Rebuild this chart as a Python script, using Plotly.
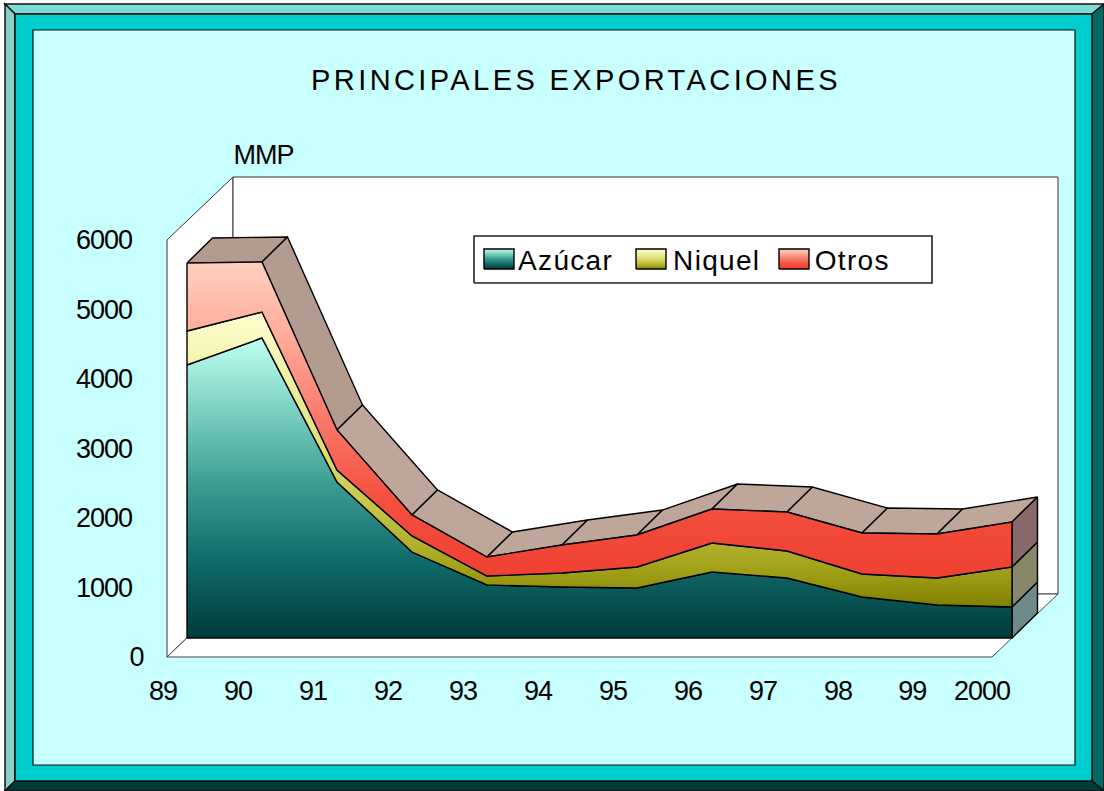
import plotly.graph_objects as go

# ---- data ----
YEARS = ["89", "90", "91", "92", "93", "94", "95", "96", "97", "98", "99", "2000"]
AZUCAR = [3928, 4317, 2245, 1237, 763, 734, 719, 950, 863, 590, 475, 446]
NIQUEL = [489, 374, 172, 231, 129, 201, 303, 417, 389, 331, 388, 576]
OTROS = [979, 719, 576, 302, 273, 403, 460, 489, 561, 590, 633, 647]
Y_TICKS = [1000, 2000, 3000, 4000, 5000, 6000]
X_LABEL_POS = [0, 1, 2, 3, 4, 5, 6, 7, 8, 9, 9.99, 10.92]

W, H = 1104, 791
FONT = "Liberation Sans"
PX_PER_CAT = 75.0
PX_PER_UNIT = 417 / 6000
X0_PX, Y0_PX = 167, 657


def to_x(px):
    return (px - X0_PX) / PX_PER_CAT


def to_y(py):
    return (Y0_PX - py) / PX_PER_UNIT


# depth offsets (category units, value units)
WALL_DX, WALL_DY = 66 / PX_PER_CAT, 63 / PX_PER_UNIT
FRONT_DX, FRONT_DY = 20 / PX_PER_CAT, 19 / PX_PER_UNIT
BACK_DX, BACK_DY = 25.5 / PX_PER_CAT, 25 / PX_PER_UNIT

n = len(YEARS)
s1 = AZUCAR
s2 = [a + b for a, b in zip(s1, NIQUEL)]
s3 = [a + b for a, b in zip(s2, OTROS)]
fx = [i + FRONT_DX for i in range(n)]


def fy(v):
    return v + FRONT_DY


fig = go.Figure()


def poly(xs, ys, fill, line="black", lw=1.4, gradient=None):
    kw = dict(fillgradient=gradient) if gradient else dict(fillcolor=fill)
    fig.add_trace(go.Scatter(x=list(xs) + [xs[0]], y=list(ys) + [ys[0]], mode="lines", fill="toself",
                             line=dict(color=line, width=lw), hoverinfo="skip", showlegend=False, **kw))


# walls and floor
L = n - 1
poly([0, 0, WALL_DX, WALL_DX], [0, 6000, 6000 + WALL_DY, WALL_DY], "white", "#333333", 1)
poly([WALL_DX, L + WALL_DX, L + WALL_DX, WALL_DX], [WALL_DY, WALL_DY, 6000 + WALL_DY, 6000 + WALL_DY], "white", "#333333", 1)
poly([0, L, L + WALL_DX, WALL_DX], [0, 0, WALL_DY, WALL_DY], "white", "#444444", 1)

# top surface of the stack
TOP_DARK = "#b39c8f"
TOP_LIGHT = "#bfa69a"
for i in range(n - 1):
    col = TOP_DARK if i < 2 else TOP_LIGHT
    poly([fx[i], fx[i + 1], fx[i + 1] + BACK_DX, fx[i] + BACK_DX],
         [fy(s3[i]), fy(s3[i + 1]), fy(s3[i + 1]) + BACK_DY, fy(s3[i]) + BACK_DY], col)

# right end faces
END_COLORS = ["#6f8a8a", "#87876a", "#87696a"]
for lo, hi, col in zip([0, s1[-1], s2[-1]], [s1[-1], s2[-1], s3[-1]], END_COLORS):
    poly([fx[-1], fx[-1] + BACK_DX, fx[-1] + BACK_DX, fx[-1]],
         [fy(lo), fy(lo) + BACK_DY, fy(hi) + BACK_DY, fy(hi)], col)

GRAD_AZ = [[0, "#003c3c"], [0.25, "#0f6a68"], [0.5, "#3a9a90"], [0.75, "#78d0c0"], [1, "#c0fff0"]]
GRAD_NI = [[0, "#808000"], [0.12, "#a0a018"], [0.3, "#c0c040"], [0.55, "#e0e078"], [1, "#ffffd0"]]
GRAD_OT = [[0, "#f04030"], [0.25, "#f45040"], [0.5, "#fa7868"], [0.75, "#ffa898"], [1, "#ffd0c0"]]


def grad(colors):
    return dict(type="vertical", colorscale=colors)


# front faces
poly(fx + fx[::-1], [fy(v) for v in s1] + [fy(0)] * n, None, gradient=grad(GRAD_AZ))
poly(fx + fx[::-1], [fy(v) for v in s2] + [fy(v) for v in s1[::-1]], None, gradient=grad(GRAD_NI))
poly(fx + fx[::-1], [fy(v) for v in s3] + [fy(v) for v in s2[::-1]], None, gradient=grad(GRAD_OT))

# legend box and swatches
poly([to_x(474), to_x(932), to_x(932), to_x(474)], [to_y(283), to_y(283), to_y(236), to_y(236)], "white", "#222222", 1.6)
LEG = [("Azúcar", 484, 514, 566, GRAD_AZ), ("Niquel", 636, 666, 716, GRAD_NI), ("Otros", 779, 809, 852, GRAD_OT)]
annotations = []
for name, a, b, cx, g in LEG:
    poly([to_x(a), to_x(b), to_x(b), to_x(a)], [to_y(269), to_y(269), to_y(249), to_y(249)], None, gradient=grad(g))
    annotations.append(dict(x=cx, y=260, text=name, font=dict(size=28, color="black", family=FONT)))

annotations.append(dict(x=136, y=657, text="0", font=dict(size=27, color="black", family=FONT)))
annotations.append(dict(x=263, y=155, text="MMP", font=dict(size=27, color="black", family=FONT)))
for a in annotations:
    a.update(x=a["x"] / W, y=1 - a["y"] / H, xref="paper", yref="paper", xanchor="center", yanchor="middle", showarrow=False)


def rect_path(points):
    return "M" + " L".join(f"{x / W},{1 - y / H}" for x, y in points) + " Z"


def frame(points, fill, lw=1.5):
    return dict(type="path", xref="paper", yref="paper", path=rect_path(points), fillcolor=fill,
                line=dict(color="#111111", width=lw), layer="below")


O_L, O_T, O_R, O_B = 5, 4, 1104, 791
M_L, M_T, M_R, M_B = 15, 14, 1092, 781
I_L, I_T, I_R, I_B = 33, 30, 1075, 765
shapes = [
    frame([(O_L, O_T), (O_R, O_T), (M_R, M_T), (M_L, M_T)], "#7ddcd6"),
    frame([(O_L, O_T), (M_L, M_T), (M_L, M_B), (O_L, O_B)], "#8ccfc8"),
    frame([(O_R, O_T), (O_R, O_B), (M_R, M_B), (M_R, M_T)], "#006a62"),
    frame([(O_L, O_B), (M_L, M_B), (M_R, M_B), (O_R, O_B)], "#003a3a"),
    frame([(M_L, M_T), (M_R, M_T), (M_R, M_B), (M_L, M_B)], "#00cdcd"),
    frame([(I_L, I_T), (I_R, I_T), (I_R, I_B), (I_L, I_B)], "#c8ffff", 1.2),
]

fig.update_layout(
    width=W, height=H, margin=dict(l=0, r=0, t=0, b=0), autosize=False,
    paper_bgcolor="white", plot_bgcolor="rgba(0,0,0,0)", showlegend=False,
    font=dict(family=FONT, color="black"),
    title=dict(text="PRINCIPALES EXPORTACIONES", x=576 / W, y=1 - 80 / H, xanchor="center", yanchor="middle",
               xref="paper", yref="paper", font=dict(size=29, family=FONT, color="black")),
    xaxis=dict(domain=[0, 1], range=[to_x(0), to_x(W)], anchor="free", position=1 - Y0_PX / H,
               tickmode="array", tickvals=X_LABEL_POS, ticktext=YEARS, ticks="", showgrid=False, zeroline=False,
               showline=False, tickangle=0, ticklabelstandoff=15, ticklabelshift=-4, tickfont=dict(size=27, family=FONT, color="black")),
    yaxis=dict(domain=[0, 1], range=[to_y(H), to_y(0)], anchor="free", position=X0_PX / W,
               tickmode="array", tickvals=Y_TICKS, ticks="", showgrid=False, zeroline=False,
               showline=False, ticklabelstandoff=35, tickformat="d", tickfont=dict(size=27, family=FONT, color="black")),
    shapes=shapes, annotations=annotations,
)

SPACING = """
document.documentElement.style.overflow='hidden';
document.body.style.margin='0';
document.querySelectorAll('.gtitle').forEach(function(t){t.style.letterSpacing='3.4px';});
document.querySelectorAll('.xtick text, .ytick text').forEach(function(t){t.style.letterSpacing='-1px';});
document.querySelectorAll('.annotation-text').forEach(function(t){
  var s=t.textContent;
  t.style.letterSpacing=(s==='Azúcar'||s==='Niquel'||s==='Otros')?'1.3px':'-1px';
});
"""
fig.write_html("out.html", post_script=SPACING, config=dict(displayModeBar=False))
